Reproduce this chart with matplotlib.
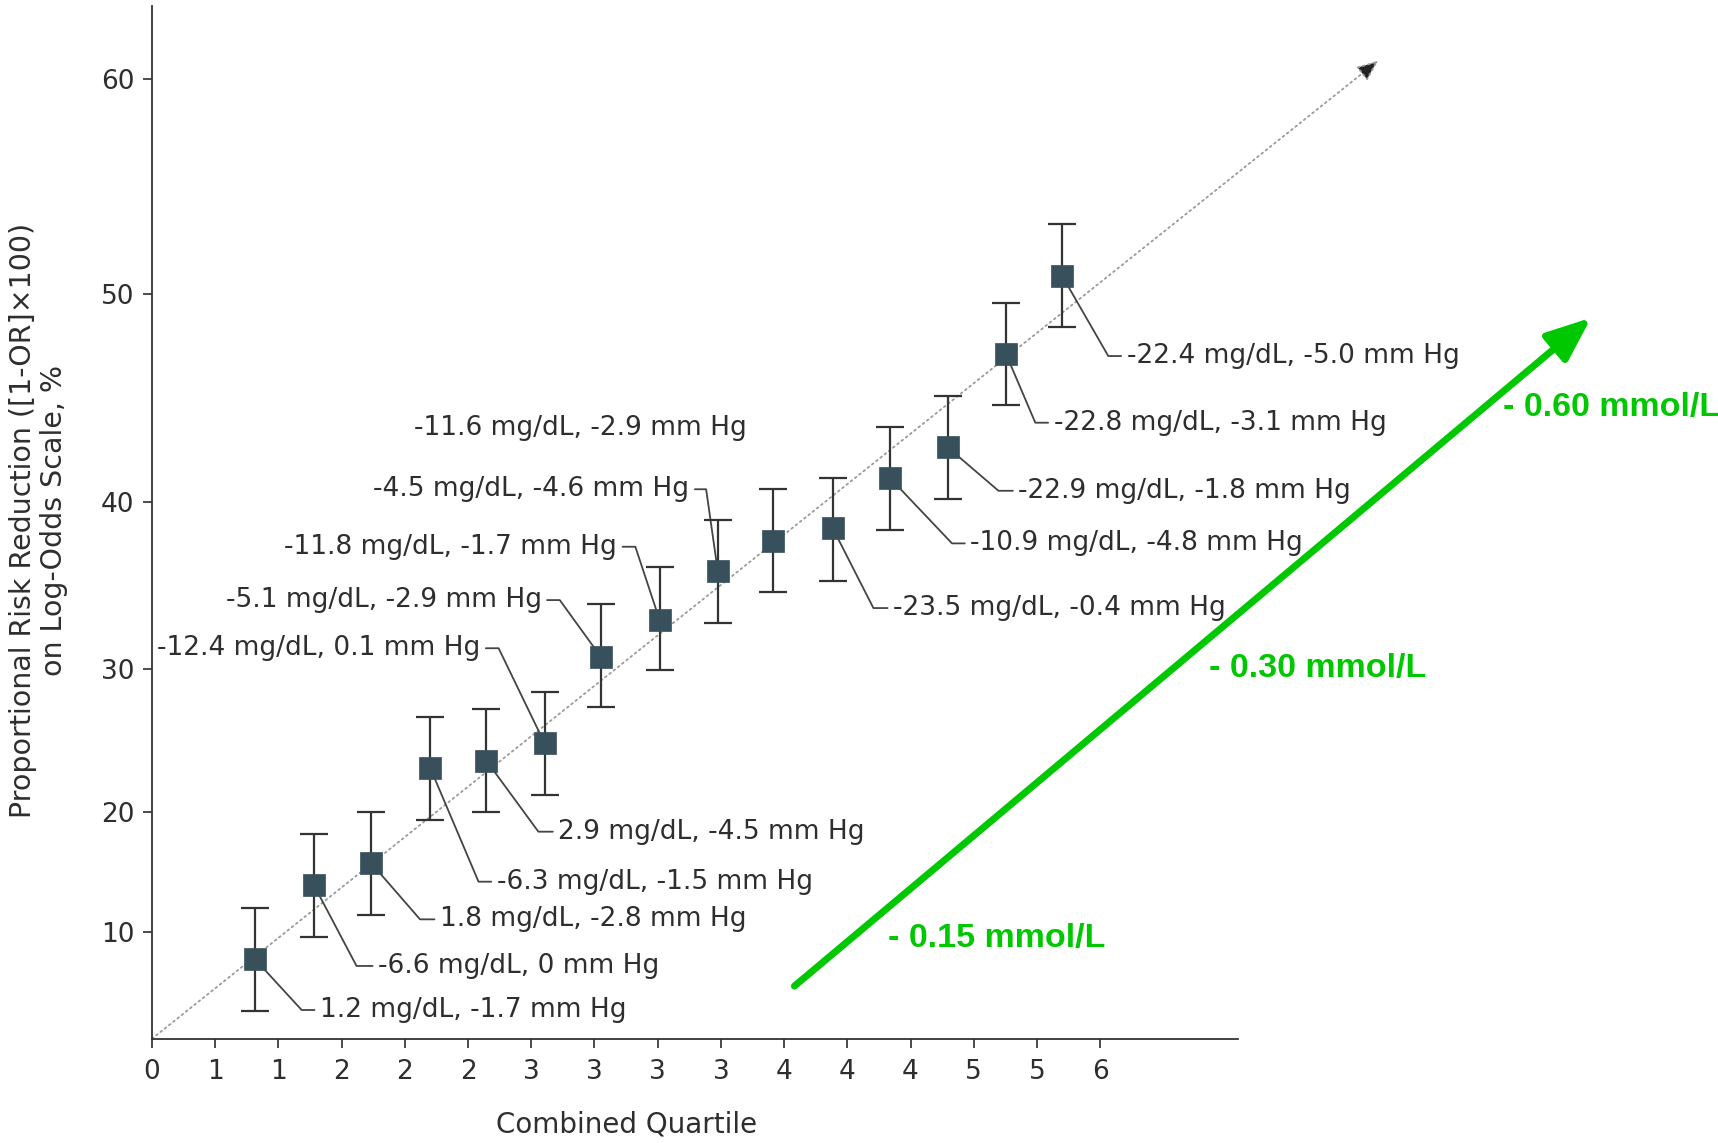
import numpy as np
import matplotlib
matplotlib.use("Agg")
import matplotlib.pyplot as plt
from matplotlib.patches import ArrowStyle

# ---------------- data ----------------
x_quartile = [1.63, 2.56, 3.47, 4.40, 5.29, 6.21, 7.10, 8.03, 8.95, 9.83,
              10.77, 11.68, 12.59, 13.51, 14.40]
risk_reduction = [7.47, 13.95, 15.75, 23.12, 23.61, 24.83, 30.75, 32.95, 35.89,
                  37.70, 38.44, 41.15, 42.64, 47.13, 50.85]
ci_upper = [12.01, 18.19, 20.0, 26.66, 27.20, 28.43, 33.91, 36.11, 38.92,
            40.63, 41.18, 43.61, 45.11, 49.60, 53.26]
ci_lower = [2.61, 9.60, 11.42, 19.36, 20.0, 21.23, 27.34, 29.95, 32.75,
            34.61, 35.31, 38.34, 40.16, 44.66, 48.41]
point_labels = [
    "1.2 mg/dL, -1.7 mm Hg",
    "-6.6 mg/dL, 0 mm Hg",
    "1.8 mg/dL, -2.8 mm Hg",
    "-6.3 mg/dL, -1.5 mm Hg",
    "2.9 mg/dL, -4.5 mm Hg",
    "-12.4 mg/dL, 0.1 mm Hg",
    "-5.1 mg/dL, -2.9 mm Hg",
    "-11.8 mg/dL, -1.7 mm Hg",
    "-4.5 mg/dL, -4.6 mm Hg",
    "-11.6 mg/dL, -2.9 mm Hg",
    "-23.5 mg/dL, -0.4 mm Hg",
    "-10.9 mg/dL, -4.8 mm Hg",
    "-22.9 mg/dL, -1.8 mm Hg",
    "-22.8 mg/dL, -3.1 mm Hg",
    "-22.4 mg/dL, -5.0 mm Hg",
]
xtick_labels = ["0", "1", "1", "2", "2", "2", "3", "3", "3", "3",
                "4", "4", "4", "5", "5", "6"]
ytick_values = [10, 20, 30, 40, 50, 60]
trend_start = (0.0, 0.0)
trend_end = (19.40, 60.87)
mmol_labels = ["- 0.15 mmol/L", "- 0.30 mmol/L", "- 0.60 mmol/L"]

# ---------------- scale (log-odds spacing as drawn) ----------------
scale_vals = [-100, 0, 10, 20, 30, 40, 50, 60, 200]
scale_h = [-1063.0, 0, 106.3, 226.4, 369.4, 536.4, 744.4, 959.4, 3969.4]


def fwd(v):
    return np.interp(v, scale_vals, scale_h)


def inv(h):
    return np.interp(h, scale_h, scale_vals)


# ---------------- layout ----------------
W, H = 1718, 1143
fig = plt.figure(figsize=(W / 100, H / 100), dpi=100)
ax = fig.add_axes([152 / W, 104.3 / H, (1238 - 152) / W, (1137 - 104.3) / H])
ax.set_yscale("function", functions=(fwd, inv))
ax.set_xlim(0, 17.18)
ax.set_ylim(0, 63.41)

txt_col = "#2e2e2e"
sq_col = "#37505c"

ax.set_xticks(range(len(xtick_labels)))
ax.set_xticklabels(xtick_labels)
ax.set_yticks(ytick_values)
ax.set_yticklabels([str(v) for v in ytick_values])
ax.yaxis.set_minor_locator(matplotlib.ticker.NullLocator())
ax.tick_params(axis="both", labelsize=19, colors=txt_col, length=6.7, width=1.2)
ax.tick_params(axis="x", pad=8)
ax.tick_params(axis="y", pad=6)
for s in ["top", "right"]:
    ax.spines[s].set_visible(False)
for s in ["left", "bottom"]:
    ax.spines[s].set_color("#333333")
    ax.spines[s].set_linewidth(1.3)

# dotted trend line with arrow
ax.annotate("", xy=trend_end, xytext=trend_start,
            arrowprops=dict(arrowstyle="-|>,head_length=0.65,head_width=0.27",
                            mutation_scale=20, ec="#9a9a9a", fc="#222222",
                            lw=1.3, linestyle=(0, (1, 2)), shrinkA=0, shrinkB=0),
            annotation_clip=False, zorder=1)

# error bars and squares
y = np.array(risk_reduction)
lo = y - np.array(ci_lower)
hi = np.array(ci_upper) - y
ax.errorbar(x_quartile, y, yerr=[lo, hi], fmt="none", ecolor="#333333",
            elinewidth=1.6, capsize=10, capthick=1.6, zorder=4)
ax.plot(x_quartile, y, linestyle="none", marker="s", ms=16, mfc=sq_col,
        mec=sq_col, mew=0.5, zorder=5)

# labels with leader lines: (dx px, dy px, leader angle, side)
label_layout = [
    (65, -50.7, -47.4, "R"),
    (64.3, -81, -62.2, "R"),
    (68.7, -56, -49, "R"),
    (66.7, -114, -67, "R"),
    (72, -71, -53.8, "R"),
    (-64.3, 95, 115.8, "L"),
    (-59.3, 56.7, 125.9, "L"),
    (-42.6, 73.3, 108.3, "L"),
    (-28.4, 81.7, 98.1, "L"),
    (-193.3, 112.4, None, "C"),
    (60.3, -79.7, -63, "R"),
    (80, -65, -46.5, "R"),
    (70.6, -43.4, -40.6, "R"),
    (47.6, -68.7, -66.9, "R"),
    (64.4, -80, -60.1, "R"),
]
for xi, yi, lab, (dx, dy, ang, side) in zip(x_quartile, risk_reduction,
                                            point_labels, label_layout):
    off = (dx * 0.72, dy * 0.72)
    if side == "C":
        ax.annotate(lab, xy=(xi, yi), xytext=off, textcoords="offset points",
                    ha="center", va="center", fontsize=19, color=txt_col)
        continue
    ha = "left" if side == "R" else "right"
    rel = (0, 0.5) if side == "R" else (1, 0.5)
    ax.annotate(lab, xy=(xi, yi), xytext=off, textcoords="offset points",
                ha=ha, va="center", fontsize=19, color=txt_col, zorder=3,
                arrowprops=dict(arrowstyle="-", color="#444444", lw=1.3,
                                shrinkA=2, shrinkB=0, relpos=rel,
                                connectionstyle=f"angle,angleA=0,angleB={ang},rad=0"))

# axis titles
fig.text(38.5 / W, 1 - 520 / H,
         "Proportional Risk Reduction ([1-OR]×100)\non Log-Odds Scale, %",
         rotation=90, ha="center", va="center", multialignment="center",
         fontsize=20.5, color=txt_col, linespacing=1.15)
fig.text(626.5 / W, 1 - 1125 / H, "Combined Quartile", ha="center", va="center",
         fontsize=20, color=txt_col)

# green overlay arrow and labels
green = "#00c800"
ax.annotate("", xy=(1591 / W, 1 - 317.8 / H), xytext=(794.4 / W, 1 - 986.1 / H),
            xycoords="figure fraction", textcoords="figure fraction",
            arrowprops=dict(arrowstyle=ArrowStyle("-|>", head_length=2.7, head_width=1.1),
                            mutation_scale=10, color=green, lw=5,
                            shrinkA=0, shrinkB=0),
            annotation_clip=False)
green_pos = [(887.5, 938), (1208.6, 668.4), (1503.3, 407.6)]
for lab, (gx, gy) in zip(mmol_labels, green_pos):
    fig.text(gx / W, 1 - gy / H, lab, ha="left", va="center", fontsize=24.5,
             fontweight="bold", color=green, family=["Liberation Sans", "DejaVu Sans"])

fig.savefig("out.png", dpi=100)
